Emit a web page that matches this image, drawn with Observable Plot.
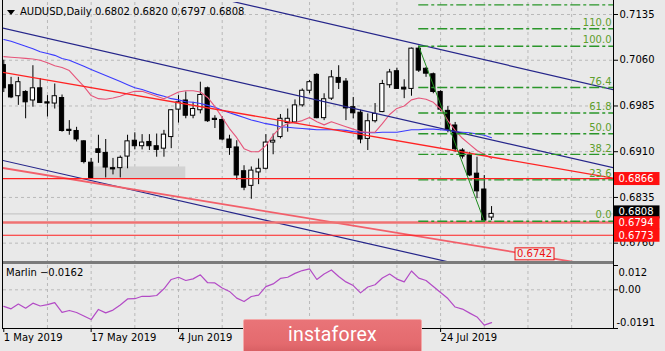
<!DOCTYPE html>
<html><head><meta charset="utf-8">
<script src="https://cdn.jsdelivr.net/npm/d3@7"></script>
<script src="https://cdn.jsdelivr.net/npm/@observablehq/plot@0.6"></script>
<style>
html,body{margin:0;padding:0;background:#e9e9e9;}
#wrap{position:relative;width:665px;height:351px;overflow:hidden;background:#e9e9e9;font-family:"DejaVu Sans",sans-serif;font-size:10px;color:#000;}
#main,#sub{position:absolute;left:0;}
#main{top:0;} #sub{top:264px;}
.ov{position:absolute;}
#title{left:7px;top:6px;line-height:12px;white-space:pre;display:flex;align-items:center;}
#title svg{margin-right:5px;}
#marlin{left:6px;top:267px;line-height:12px;white-space:pre;}
#wm{left:243px;top:319px;width:177px;height:34px;border:1px solid #f3a9a9;border-radius:2px;
 background:linear-gradient(#e97478 0%,#e46a6e 70%,#d45c60 100%);color:#fff;font-family:Roboto,"Open Sans",sans-serif;
 font-size:19.5px;line-height:30px;text-align:center;letter-spacing:0.2px;}
</style></head><body>
<div id="wrap">
  <div id="main"></div>
  <div id="sub"></div>
  <div class="ov" style="left:3px;top:261px;width:610px;height:3px;background:#7b7b7b"></div>
  <div class="ov" style="left:2px;top:0;width:1px;height:329px;background:#000"></div>
  <div class="ov" style="left:613px;top:0;width:1px;height:329px;background:#000"></div>
  <div class="ov" style="left:2px;top:328px;width:612px;height:1px;background:#000"></div>
  <div id="title" class="ov"><svg width="8" height="5"><polygon points="0,0 8,0 4,5" fill="#000"/></svg><span id="ttext"></span></div>
  <div id="marlin" class="ov"></div>
  <div id="wm" class="ov">instaforex</div>
</div>
<script>
// ---------- data ----------
const symbol = "AUDUSD,Daily";
const dateTickIdx = [0,12,24,36,48,60];
const dateLabelIdx = [0,12,24,60];
const dateLabels = ["1 May 2019","17 May 2019","4 Jun 2019","24 Jul 2019"];
const gridIdx = [6,12,18,24,30,36,42,48,54,60,66,72,78];
const priceTicks = [0.7135,0.7060,0.6985,0.6910,0.6835,0.6760];

const opens = [0.7052,0.7019,0.7001,0.7008,0.6994,0.7014,0.6991,0.6989,0.6998,0.6946,
 0.6944,0.6927,0.6892,0.6914,0.6908,0.6883,0.6883,0.6902,0.6928,0.6919,
 0.6926,0.6919,0.6915,0.6934,0.6979,0.6994,0.6969,0.6978,0.7014,0.6964,
 0.6962,0.6930,0.6917,0.6878,0.6854,0.6876,0.6882,0.6925,0.6934,0.6957,
 0.6958,0.6986,0.7010,0.7036,0.6965,0.6997,0.7031,0.7025,0.6983,0.6974,
 0.6931,0.6960,0.6975,0.7019,0.7042,0.7015,0.7013,0.7079,0.7046,0.7037,
 0.7008,0.6977,0.6953,0.6912,0.6904,0.6874,0.6848,0.6802];
const highs = [0.7060,0.7032,0.7032,0.7010,0.7051,0.7030,0.7002,0.7021,0.7003,0.6961,
 0.6950,0.6928,0.6899,0.6937,0.6930,0.6899,0.6903,0.6937,0.6941,0.6938,
 0.6938,0.6939,0.6945,0.6979,0.7002,0.7008,0.6991,0.7024,0.7016,0.6969,
 0.6967,0.6937,0.6928,0.6887,0.6885,0.6898,0.6938,0.6939,0.6971,0.6980,
 0.6995,0.7013,0.7027,0.7038,0.7005,0.7043,0.7051,0.7030,0.6999,0.6978,
 0.6972,0.6989,0.7027,0.7045,0.7047,0.7028,0.7080,0.7083,0.7048,0.7039,
 0.7010,0.6984,0.6958,0.6915,0.6909,0.6901,0.6871,0.6820];
const lows = [0.7007,0.6997,0.6986,0.6964,0.6983,0.6989,0.6967,0.6980,0.6942,0.6937,
 0.6926,0.6890,0.6866,0.6891,0.6867,0.6872,0.6867,0.6882,0.6913,0.6913,
 0.6912,0.6901,0.6901,0.6915,0.6957,0.6964,0.6964,0.6972,0.6958,0.6948,
 0.6928,0.6904,0.6863,0.6846,0.6832,0.6856,0.6880,0.6905,0.6931,0.6942,
 0.6956,0.6983,0.7005,0.6964,0.6961,0.6994,0.7012,0.6961,0.6964,0.6923,
 0.6912,0.6957,0.6974,0.7014,0.7012,0.6997,0.7001,0.7040,0.7032,0.7005,
 0.6976,0.6941,0.6909,0.6898,0.6869,0.6833,0.6796,0.6797];
const closes = [0.7014,0.6999,0.7024,0.6991,0.7014,0.6990,0.6989,0.7001,0.6944,0.6944,
 0.6930,0.6893,0.6867,0.6908,0.6884,0.6881,0.6900,0.6927,0.6919,0.6925,
 0.6919,0.6913,0.6938,0.6978,0.6991,0.6969,0.6980,0.7003,0.6960,0.6962,
 0.6930,0.6916,0.6871,0.6851,0.6879,0.6882,0.6925,0.6928,0.6964,0.6964,
 0.6986,0.7010,0.7024,0.6965,0.6996,0.7032,0.7023,0.6981,0.6973,0.6930,
 0.6960,0.6972,0.7021,0.7040,0.7013,0.7012,0.7079,0.7043,0.7038,0.7008,
 0.6979,0.6946,0.6914,0.6902,0.6871,0.6845,0.6797,0.6808];

const maFast = [0.7066,0.7065,0.7064,0.7063,0.7062,0.7060,0.7056,0.7051,0.7048,0.7043,
 0.7030,0.7017,0.7002,0.6997,0.6996,0.6998,0.7001,0.7006,0.7009,0.7009,
 0.7005,0.7001,0.6997,0.7002,0.7008,0.7010,0.7010,0.7008,0.6999,0.6984,
 0.6966,0.6948,0.6933,0.6915,0.6910,0.6910,0.6920,0.6937,0.6950,0.6956,
 0.6958,0.6961,0.6966,0.6959,0.6954,0.6959,0.6955,0.6951,0.6947,0.6943,
 0.6942,0.6942,0.6956,0.6971,0.6981,0.6985,0.6995,0.6998,0.6996,0.6991,
 0.6980,0.6961,0.6945,0.6932,0.6922,0.6912,0.6906,0.6899];
const maSlow = [0.7094,0.7091,0.7087,0.7083,0.7079,0.7074,0.7071,0.7068,0.7063,0.7060,
 0.7055,0.7050,0.7045,0.7040,0.7035,0.7030,0.7025,0.7020,0.7015,0.7012,
 0.7008,0.7004,0.7001,0.6997,0.6995,0.6992,0.6991,0.6989,0.6986,0.6983,
 0.6978,0.6974,0.6970,0.6966,0.6962,0.6959,0.6956,0.6954,0.6951,0.6950,
 0.6949,0.6948,0.6947,0.6946,0.6946,0.6946,0.6946,0.6945,0.6943,0.6942,
 0.6941,0.6941,0.6942,0.6942,0.6942,0.6944,0.6946,0.6946,0.6947,0.6947,
 0.6946,0.6945,0.6943,0.6942,0.6941,0.6939,0.6937,0.6933];
const marlin = [-0.0082,-0.0094,-0.0070,-0.0091,-0.0066,-0.0080,-0.0073,-0.0063,-0.0111,-0.0102,
 -0.0112,-0.0129,-0.0147,-0.0097,-0.0114,-0.0100,-0.0075,-0.0045,-0.0044,-0.0032,
 -0.0032,-0.0028,0.0005,0.0051,0.0062,0.0046,0.0054,0.0074,0.0035,0.0034,
 0.0009,-0.0008,-0.0041,-0.0058,-0.0033,-0.0026,0.0016,0.0029,0.0056,0.0062,
 0.0081,0.0095,0.0103,0.0051,0.0078,0.0098,0.0066,0.0039,0.0021,-0.0015,
 0.0014,0.0025,0.0058,0.0078,0.0053,0.0039,0.0093,0.0058,0.0046,0.0016,
 -0.0013,-0.0043,-0.0085,-0.0095,-0.0115,-0.0134,-0.0174,-0.0162];
const marlinTicks = [0.012, 0, -0.0191];
const marlinTickLabels = ["0.012","0.00","-0.0191"];

// trend lines: [bar index, price]
const trendA = [[20,0.7188],[84,0.7011]];
const trendB = [[-1,0.7115],[84,0.6883]];
const trendC = [[-1,0.6898],[84,0.6667]];
const trendD = [[-1,0.7042],[84,0.6866]];
const trendE = [[-1,0.6885],[84,0.6718]];
const hLevelTop = 0.6866, hLevelMid = 0.6794, hLevelLow = 0.6773;
const fibLevels = [0,23.6,38.2,50,61.8,76.4,100,110,123.6];
const zone = [12,25,0.6866,0.6885];
const targetPrice = 0.6742;

// ---------- derived ----------
const N = opens.length;
const candles = d3.range(N).map(i => ({i, o: opens[i], h: highs[i], l: lows[i], c: closes[i]}));
const bodies = candles.map(d => {
  let top = Math.max(d.o, d.c), bot = Math.min(d.o, d.c);
  if (top - bot < 0.00008) { const m = (top + bot) / 2; top = m + 0.00003; bot = m - 0.00003; }
  return {...d, top, bot};
});
const upB = bodies.filter(d => d.c >= d.o), dnB = bodies.filter(d => d.c < d.o);
const hiIdx = d3.maxIndex(highs), loIdx = d3.minIndex(lows);
const fibHi = highs[hiIdx], fibLo = lows[loIdx];
const fibs = fibLevels.map(l => ({l, p: fibLo + (fibHi - fibLo) * l / 100}));
const X_DOMAIN = [-0.04, 83.75];
const Y_DOMAIN = [0.67283, 0.71547];
const GRID = "#b9b9b9";
const HW = 0.29;
const fmt4 = d3.format(".4f");
const font = {background: "transparent", fontFamily: "DejaVu Sans", fontSize: "10px"};

document.getElementById("ttext").textContent =
  `${symbol} ${fmt4(opens[N-1])} ${fmt4(highs[N-1])} ${fmt4(lows[N-1])} ${fmt4(closes[N-1])}`;
document.getElementById("marlin").textContent = `Marlin ${fmt4(marlin[N-1])}`;

const line = (pts, o) => Plot.line(pts, {x: d => d[0], y: d => d[1], clip: true, ...o});

const main = Plot.plot({
  width: 665, height: 264,
  marginLeft: 3, marginRight: 52, marginTop: 2, marginBottom: 2,
  style: font,
  x: {domain: X_DOMAIN, axis: null},
  y: {domain: Y_DOMAIN, axis: "right", ticks: priceTicks, tickFormat: fmt4, tickSize: 4, tickPadding: 2, label: null},
  marks: [
    Plot.ruleY(priceTicks, {stroke: GRID, strokeDasharray: "3,3"}),
    Plot.ruleX(gridIdx, {stroke: GRID, strokeDasharray: "3,3"}),
    Plot.rect([zone], {x1: d => d[0], x2: d => d[1], y1: d => d[2], y2: d => d[3], fill: "#d2d2d2"}),
    Plot.ruleY([closes[N-1]], {stroke: "#c0c0c0"}),
    Plot.ruleX(candles, {x: "i", y1: "l", y2: "h", stroke: "#000", strokeWidth: 1, clip: true}),
    Plot.rect(dnB, {x1: d => d.i - HW, x2: d => d.i + HW, y1: "bot", y2: "top", fill: "#000", stroke: "#000", clip: true}),
    Plot.rect(upB, {x1: d => d.i - HW, x2: d => d.i + HW, y1: "bot", y2: "top", fill: "#fff", stroke: "#000", clip: true}),
    Plot.line(maSlow.map((v, i) => ({i, v})), {x: "i", y: "v", stroke: "#3b3bff", strokeWidth: 1.1, clip: true}),
    Plot.line(maFast.map((v, i) => ({i, v})), {x: "i", y: "v", stroke: "#e6557a", strokeWidth: 1.1, clip: true}),
    line(trendA, {stroke: "#25258a", strokeWidth: 1.2}),
    line(trendB, {stroke: "#25258a", strokeWidth: 1.2}),
    line(trendC, {stroke: "#25258a", strokeWidth: 1.2}),
    line(trendD, {stroke: "#ff2323", strokeWidth: 1.3}),
    line(trendE, {stroke: "#f25f6a", strokeWidth: 1.8}),
    Plot.ruleY([hLevelTop], {stroke: "#ff2020", strokeWidth: 1.3}),
    Plot.ruleY([hLevelMid], {stroke: "#ef7272", strokeWidth: 2.4}),
    Plot.ruleY([hLevelLow], {stroke: "#ff2020", strokeWidth: 1.2}),
    Plot.ruleY(fibs, {y: "p", x1: hiIdx, x2: X_DOMAIN[1], stroke: "#2a962a", strokeWidth: 1.4, strokeDasharray: "10,3,3,3", clip: true}),
    Plot.line([[hiIdx, fibHi], [loIdx, fibLo]], {x: d => d[0], y: d => d[1], stroke: "#1e8c1e", strokeWidth: 1}),
    Plot.text(fibs.filter(d => d.l <= 110), {y: "p", text: d => d.l.toFixed(1), frameAnchor: "right", textAnchor: "end", dx: -2, dy: -6, fill: "#5e9e2c"}),
    Plot.text([targetPrice], {x: 72.9, y: d => d, text: d => fmt4(d), fill: "#ee1111"})
  ]
});
document.getElementById("main").appendChild(main);

const sub = Plot.plot({
  width: 665, height: 87,
  marginLeft: 3, marginRight: 52, marginTop: 1, marginBottom: 23,
  style: font,
  x: {domain: X_DOMAIN, axis: "bottom", ticks: dateTickIdx, tickFormat: () => "", tickSize: 4, label: null},
  y: {domain: [marlinTicks[2], marlinTicks[0]], axis: "right", ticks: marlinTicks, tickFormat: () => "", tickSize: 4, label: null},
  marks: [
    Plot.ruleY([0], {stroke: GRID, strokeDasharray: "3,3"}),
    Plot.ruleX(gridIdx, {stroke: GRID, strokeDasharray: "3,3"}),
    Plot.line(marlin.map((v, i) => ({i, v})), {x: "i", y: "v", stroke: "#b34bc6", strokeWidth: 1.2}),
    Plot.text([0], {y: d => marlinTicks[d], text: d => marlinTickLabels[d], frameAnchor: "right", textAnchor: "start", dx: 5, dy: 7}),
    Plot.text([1], {y: d => marlinTicks[d], text: d => marlinTickLabels[d], frameAnchor: "right", textAnchor: "start", dx: 5}),
    Plot.text([2], {y: d => marlinTicks[d], text: d => marlinTickLabels[d], frameAnchor: "right", textAnchor: "start", dx: 3, dy: -6}),
    Plot.text(dateLabelIdx.map((i, k) => ({i, t: dateLabels[k]})), {x: "i", text: "t", frameAnchor: "bottom", textAnchor: "start", dy: 12})
  ]
});
document.getElementById("sub").appendChild(sub);

// ---------- price boxes on the right axis, placed through the y scale ----------
const ys = main.scale("y"), xs = main.scale("x");
const fy = ys.apply ? v => ys.apply(v) : d3.scaleLinear(ys.domain, ys.range);
const xr = d3.max(xs.range);
const svg = d3.select(main);
const boxes = [
  {p: hLevelTop, bg: "#ff1010", shift: 0.5},
  {p: closes[N-1], bg: "#000", shift: -1.5},
  {p: hLevelMid, bg: "#ff1010", shift: 0.8},
  {p: hLevelLow, bg: "#ff1010", shift: 0.5}
];
const gb = svg.append("g").attr("font-family", "DejaVu Sans").attr("font-size", 10).attr("text-anchor", "start");
boxes.forEach(b => {
  const y = fy(b.p) + b.shift;
  gb.append("rect").attr("x", xr + 0.5).attr("y", y - 6.5).attr("width", 46).attr("height", 13).attr("fill", b.bg);
  gb.append("text").attr("x", xr + 5.5).attr("y", y).attr("dy", "0.35em").attr("text-anchor", "start").attr("fill", "#fff").text(fmt4(b.p));
});
// box around target label
svg.selectAll("text").filter(function() { return this.textContent === fmt4(targetPrice) && this.getAttribute("fill") !== "#fff"; })
  .each(function() {
    const bb = this.getBBox();
    const g = this.parentNode;
    const r = document.createElementNS("http://www.w3.org/2000/svg", "rect");
    r.setAttribute("x", bb.x - 2); r.setAttribute("y", bb.y - 0.5);
    r.setAttribute("width", bb.width + 4); r.setAttribute("height", bb.height + 1);
    r.setAttribute("fill", "#ececec"); r.setAttribute("stroke", "#ee1111");
    const tr = this.getAttribute("transform");
    if (tr) r.setAttribute("transform", tr);
    g.insertBefore(r, this);
  });
</script>
</body></html>
